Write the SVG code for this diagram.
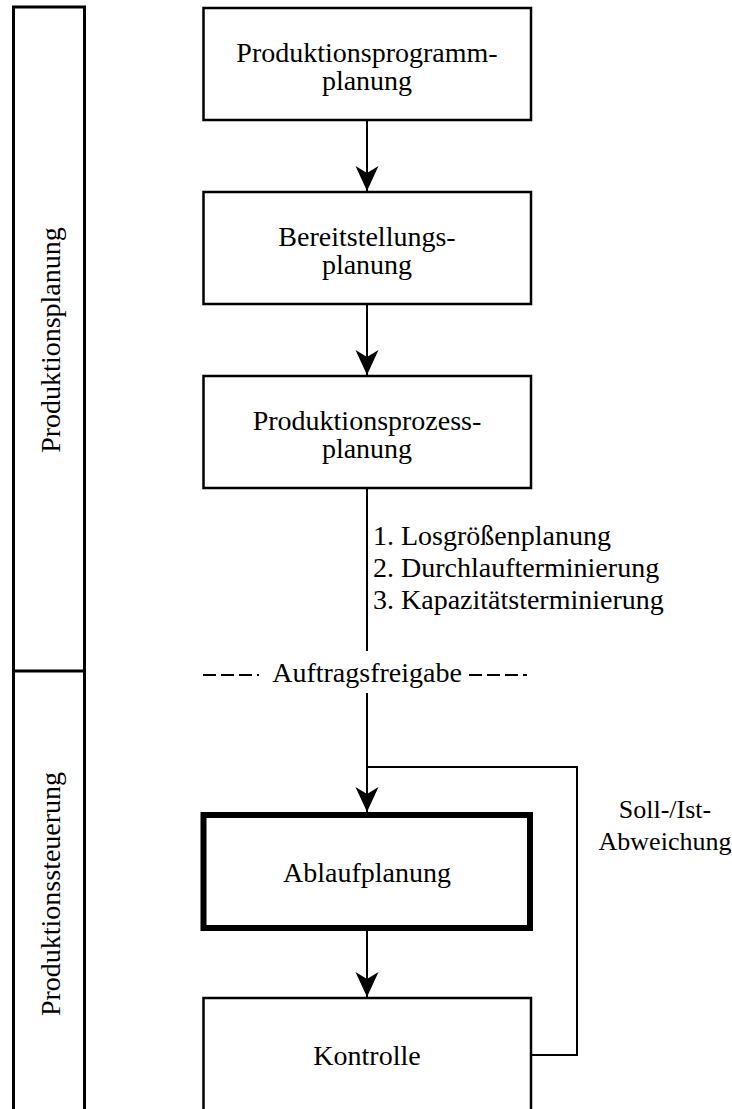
<svg xmlns="http://www.w3.org/2000/svg" width="732" height="1109" viewBox="0 0 732 1109">
  <style>
    text { font-size: 28px; fill: #000; }
    .c { text-anchor: middle; }
    .note { font-size: 26px; text-anchor: middle; }
    .box { fill: #fff; stroke: #000; stroke-width: 2.5; }
    .bold { fill: #fff; stroke: #000; stroke-width: 6; }
    .frame { fill: none; stroke: #000; stroke-width: 3; }
    .line { fill: none; stroke: #000; stroke-width: 2; }
    .dash { fill: none; stroke: #000; stroke-width: 2; stroke-dasharray: 13 5; }
  </style>
  <defs>
    <marker id="arrow" markerUnits="userSpaceOnUse" orient="auto" viewBox="-26 -12 27 24" refX="0" refY="0" markerWidth="27" markerHeight="24">
      <path d="M0,0 L-25,-11.5 L-18,0 L-25,11.5 Z" fill="#000"/>
    </marker>
  </defs>

  <rect width="732" height="1109" fill="#fff"/>

  <g font-family="Liberation Serif, Times New Roman, serif">
  <!-- phase column on the left -->
  <g id="phases">
    <path class="frame" d="M13.5,1112 V7 H84.5 V1112"/>
    <line class="frame" x1="13.5" y1="671" x2="84.5" y2="671"/>
    <text class="c" transform="translate(60,340) rotate(-90)">Produktionsplanung</text>
    <text class="c" transform="translate(60,894) rotate(-90)">Produktionssteuerung</text>
  </g>

  <!-- connectors -->
  <g id="connectors">
    <line class="line" x1="367" y1="120" x2="367" y2="191" marker-end="url(#arrow)"/>
    <line class="line" x1="367" y1="304" x2="367" y2="375" marker-end="url(#arrow)"/>
    <line class="line" x1="367" y1="488" x2="367" y2="651"/>
    <line class="line" x1="367" y1="693" x2="367" y2="812" marker-end="url(#arrow)"/>
    <line class="line" x1="367" y1="928" x2="367" y2="997" marker-end="url(#arrow)"/>
    <path class="line" d="M531,1055 H577 V767 H367"/>
    <line class="dash" x1="203" y1="675" x2="259" y2="675"/>
    <line class="dash" x1="469" y1="675" x2="527" y2="675"/>
    <text x="373" y="545">1. Losgrößenplanung</text>
    <text x="373" y="577">2. Durchlaufterminierung</text>
    <text x="373" y="609">3. Kapazitätsterminierung</text>
    <text class="c" x="367" y="682">Auftragsfreigabe</text>
    <text class="note" x="665" y="818">Soll-/Ist-</text>
    <text class="note" x="665" y="850">Abweichung</text>
  </g>

  <g id="programmplanung">
    <rect class="box" x="203.5" y="8" width="327.5" height="112"/>
    <text class="c" x="367" y="62">Produktionsprogramm-</text>
    <text class="c" x="367" y="90">planung</text>
  </g>

  <g id="bereitstellungsplanung">
    <rect class="box" x="203.5" y="192" width="327.5" height="112"/>
    <text class="c" x="367" y="246">Bereitstellungs-</text>
    <text class="c" x="367" y="274">planung</text>
  </g>

  <g id="prozessplanung">
    <rect class="box" x="203.5" y="376" width="327.5" height="112"/>
    <text class="c" x="367" y="430">Produktionsprozess-</text>
    <text class="c" x="367" y="458">planung</text>
  </g>

  <g id="ablaufplanung">
    <rect class="bold" x="203.5" y="815" width="326.5" height="113"/>
    <text class="c" x="367" y="882">Ablaufplanung</text>
  </g>

  <g id="kontrolle">
    <rect class="box" x="203.5" y="998" width="327.5" height="120"/>
    <text class="c" x="367" y="1065">Kontrolle</text>
  </g>
  </g>
</svg>
